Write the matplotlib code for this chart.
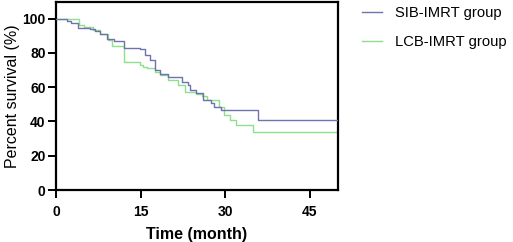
import matplotlib
matplotlib.use("Agg")
import matplotlib.pyplot as plt

plt.rcParams['font.family'] = ['Liberation Sans', 'DejaVu Sans']

sib_t = [0, 2.0, 2.7, 3.9, 6.1, 6.9, 7.8, 9.0, 10.2, 12.0, 14.9, 15.8, 16.7, 17.6, 18.5,
         19.9, 22.3, 23.4, 23.7, 24.9, 26.1, 27.5, 28.1, 29.3, 35.9, 50]
sib_s = [100, 98.8, 97.6, 94.7, 94.0, 93.0, 91.0, 88.0, 87.0, 83.0, 82.0, 79.0, 76.0, 70.0, 67.8,
         65.8, 63.3, 61.0, 58.5, 56.5, 52.6, 50.7, 48.7, 46.8, 40.9, 40.9]

lcb_t = [0, 4.0, 4.9, 6.6, 7.8, 9.3, 9.9, 12.0, 14.9, 15.5, 16.1, 17.6, 18.5, 19.9, 21.6,
         22.8, 24.9, 25.8, 26.7, 28.9, 29.8, 30.8, 32.0, 34.9, 50]
lcb_s = [100, 96.5, 95.0, 93.6, 91.0, 87.7, 84.2, 74.5, 73.0, 72.0, 71.0, 68.6, 67.3, 63.9, 61.4,
         57.0, 56.0, 54.6, 52.6, 48.7, 43.9, 40.9, 38.0, 34.1, 34.1]

series_names = ["SIB-IMRT group", "LCB-IMRT group"]
x_ticks = [0, 15, 30, 45]
y_ticks = [0, 20, 40, 60, 80, 100]

fig = plt.figure(figsize=(5.13, 2.42), dpi=100)
ax = fig.add_axes([56/513, 1 - 190/242, (338-56)/513, (190-1.5)/242])

ax.step(sib_t, sib_s, where='post', color='#6e72ad', lw=1.0, label=series_names[0], zorder=3)
ax.step(lcb_t, lcb_s, where='post', color='#8ee08a', lw=1.0, label=series_names[1], zorder=2)

ax.set_xlim(0, 50)
ax.set_ylim(0, 110)
ax.set_xticks(x_ticks)
ax.set_yticks(y_ticks)
for sp in ax.spines.values():
    sp.set_linewidth(1.6)
ax.tick_params(direction='out', length=5.5, width=1.4, labelsize=10)
ax.tick_params(axis='x', pad=5)
ax.tick_params(axis='y', pad=2)
for lab in ax.get_xticklabels() + ax.get_yticklabels():
    lab.set_fontweight('bold')
ax.set_xlabel("Time (month)", fontsize=11.5, fontweight='bold', labelpad=6)
ax.set_ylabel("Percent survival (%)", fontsize=11.5, labelpad=2)

leg = ax.legend(loc='upper left', bbox_to_anchor=(1.085, 0.975), frameon=False,
                fontsize=10.6, handlelength=1.36, handletextpad=0.85, labelspacing=1.0,
                borderaxespad=0, borderpad=0)

fig.savefig("out.png", dpi=100)
